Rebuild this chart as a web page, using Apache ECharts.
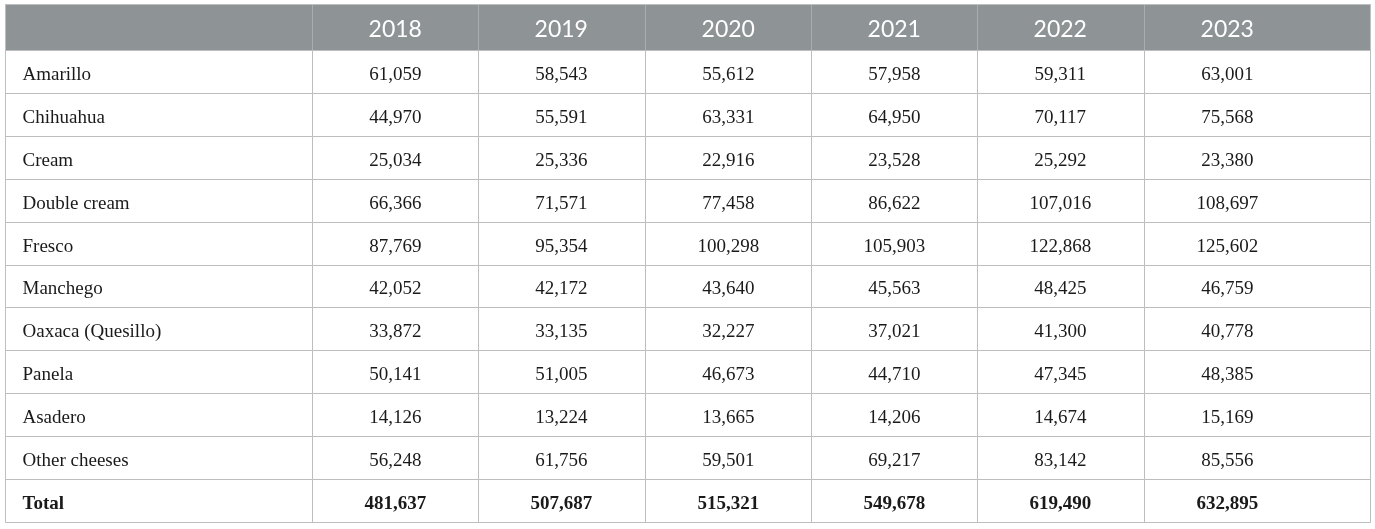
<!DOCTYPE html>
<html>
<head>
<meta charset="utf-8">
<script src="https://cdn.jsdelivr.net/npm/echarts/dist/echarts.min.js"></script>
<style>
html, body { margin: 0; padding: 0; background: #fff; }
#main { width: 1375px; height: 529px; }
</style>
</head>
<body>
<div id="main"></div>
<script>
var years = ['2018', '2019', '2020', '2021', '2022', '2023'];
var cheeses = ['Amarillo', 'Chihuahua', 'Cream', 'Double cream', 'Fresco', 'Manchego',
	'Oaxaca (Quesillo)', 'Panela', 'Asadero', 'Other cheeses'];
var v2018 = [61059, 44970, 25034, 66366, 87769, 42052, 33872, 50141, 14126, 56248];
var v2019 = [58543, 55591, 25336, 71571, 95354, 42172, 33135, 51005, 13224, 61756];
var v2020 = [55612, 63331, 22916, 77458, 100298, 43640, 32227, 46673, 13665, 59501];
var v2021 = [57958, 64950, 23528, 86622, 105903, 45563, 37021, 44710, 14206, 69217];
var v2022 = [59311, 70117, 25292, 107016, 122868, 48425, 41300, 47345, 14674, 83142];
var v2023 = [63001, 75568, 23380, 108697, 125602, 46759, 40778, 48385, 15169, 85556];
var totals = [481637, 507687, 515321, 549678, 619490, 632895];
var totalLabel = 'Total';

var yearValues = [v2018, v2019, v2020, v2021, v2022, v2023];

// layout (axis units = px inside the grid)
var colEdges = [0, 307, 473, 640, 806, 972, 1139, 1365];
var yearColWidth = 166.5;
var headerH = 46;
var rowH = 42.9;
var tableH = headerH + rowH * (cheeses.length + 1);

function fmt(n) {
	return n.toLocaleString('en-US');
}

// build the cell list: header row, one row per cheese, total row
var cells = [];
cells.push({ col: 0, row: 0, text: '', kind: 'head' });
years.forEach(function (y, i) {
	cells.push({ col: i + 1, row: 0, text: y, kind: 'head' });
});
cheeses.forEach(function (c, r) {
	cells.push({ col: 0, row: r + 1, text: c, kind: 'body' });
	yearValues.forEach(function (vals, i) {
		cells.push({ col: i + 1, row: r + 1, text: fmt(vals[r]), kind: 'body' });
	});
});
cells.push({ col: 0, row: cheeses.length + 1, text: totalLabel, kind: 'total' });
totals.forEach(function (t, i) {
	cells.push({ col: i + 1, row: cheeses.length + 1, text: fmt(t), kind: 'total' });
});

function rowTop(row) {
	return row === 0 ? 0 : headerH + (row - 1) * rowH;
}
function rowBottom(row) {
	return row === 0 ? headerH : headerH + row * rowH;
}

function renderCell(params, api) {
	var c = cells[params.dataIndex];
	var p0 = api.coord([colEdges[c.col], rowTop(c.row)]);
	var p1 = api.coord([colEdges[c.col + 1], rowBottom(c.row)]);
	var x0 = Math.round(p0[0]) + 0.5, y0 = Math.round(p0[1]) + 0.5;
	var x1 = Math.round(p1[0]) + 0.5, y1 = Math.round(p1[1]) + 0.5;
	var head = c.kind === 'head';
	var midY = (y0 + y1) / 2;
	var tx, align;
	if (c.col === 0) {
		tx = x0 + 17;
		align = 'left';
	} else {
		tx = api.coord([colEdges[c.col] + yearColWidth / 2, 0])[0];
		align = 'center';
	}
	return {
		type: 'group',
		children: [{
			type: 'rect',
			shape: { x: x0, y: y0, width: x1 - x0, height: y1 - y0 },
			style: {
				fill: head ? '#8e9396' : '#ffffff',
				stroke: head ? '#a9adb0' : '#bdbdbd',
				lineWidth: 1
			}
		}, {
			type: 'text',
			style: {
				text: c.text,
				x: tx,
				y: midY + (head ? 2 : 3),
				align: align,
				verticalAlign: 'middle',
				fill: head ? '#ffffff' : '#1a1a1a',
				fontFamily: head ? 'Lato' : '"Liberation Serif"',
				fontSize: head ? 23 : 19,
				fontWeight: c.kind === 'total' ? 'bold' : 'normal'
			}
		}]
	};
}

var tableChart = echarts.init(document.getElementById('main'));
var option = {
	animation: false,
	grid: { left: 5, right: 5, top: 4, bottom: 529 - 4 - 518 },
	xAxis: { type: 'value', min: 0, max: 1365, show: false },
	yAxis: { type: 'value', min: 0, max: tableH, inverse: true, show: false },
	series: [{
		type: 'custom',
		renderItem: renderCell,
		data: cells.map(function (c) { return [colEdges[c.col], rowTop(c.row)]; }),
		silent: true
	}, {
		// outer frame
		type: 'custom',
		renderItem: function (params, api) {
			var p0 = api.coord([0, 0]);
			var p1 = api.coord([1365, tableH]);
			return {
				type: 'rect',
				shape: {
					x: Math.round(p0[0]) + 0.5, y: Math.round(p0[1]) + 0.5,
					width: Math.round(p1[0] - p0[0]), height: Math.round(p1[1] - p0[1])
				},
				style: { fill: 'none', stroke: '#bcc0c0', lineWidth: 1 }
			};
		},
		data: [[0, 0]],
		silent: true
	}]
};
tableChart.setOption(option);
</script>
</body>
</html>
